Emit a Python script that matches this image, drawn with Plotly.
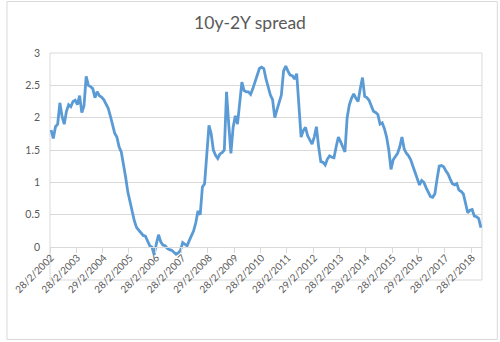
import pandas as pd
import plotly.graph_objects as go

# Month-end 10-year minus 2-year Treasury spread (percentage points), Feb 2002 onward
spread = [
    1.81, 1.68, 1.86, 1.90, 2.23, 2.02, 1.90, 2.10, 2.20, 2.17, 2.25, 2.27,
    2.20, 2.34, 2.08, 2.18, 2.64, 2.50, 2.48, 2.45, 2.31, 2.40, 2.34, 2.32,
    2.28, 2.22, 2.15, 2.03, 1.88, 1.76, 1.70, 1.55, 1.47, 1.30, 1.08, 0.85,
    0.72, 0.55, 0.40, 0.30, 0.26, 0.22, 0.18, 0.17, 0.10, 0.02, 0.00, -0.12,
    0.05, 0.19, 0.08, 0.03, 0.02, -0.02, -0.04, -0.05, -0.08, -0.11, -0.09, -0.05,
    0.07, 0.04, 0.02, 0.10, 0.17, 0.25, 0.38, 0.56, 0.50, 0.93, 0.98, 1.40,
    1.88, 1.75, 1.50, 1.42, 1.37, 1.44, 1.46, 1.50, 2.40, 1.90, 1.45, 1.85,
    2.03, 1.90, 2.25, 2.55, 2.42, 2.40, 2.40, 2.36, 2.45, 2.55, 2.65, 2.76,
    2.78, 2.76, 2.60, 2.48, 2.35, 2.28, 2.00, 2.12, 2.22, 2.35, 2.72, 2.80,
    2.72, 2.66, 2.65, 2.60, 2.68, 2.20, 1.70, 1.80, 1.85, 1.72, 1.65, 1.59,
    1.70, 1.86, 1.55, 1.32, 1.31, 1.27, 1.36, 1.41, 1.39, 1.38, 1.55, 1.70,
    1.63, 1.56, 1.47, 2.00, 2.20, 2.30, 2.37, 2.30, 2.25, 2.45, 2.62, 2.33,
    2.31, 2.27, 2.18, 2.10, 2.08, 2.05, 1.90, 1.92, 1.83, 1.70, 1.50, 1.20,
    1.35, 1.40, 1.45, 1.55, 1.70, 1.52, 1.45, 1.41, 1.35, 1.25, 1.15, 1.05,
    0.96, 1.03, 1.00, 0.92, 0.85, 0.78, 0.77, 0.82, 1.05, 1.25, 1.26, 1.24,
    1.18, 1.13, 1.05, 0.98, 0.96, 0.98, 0.88, 0.86, 0.82, 0.68, 0.53, 0.57,
    0.58, 0.48, 0.47, 0.44, 0.30,
]

month_ends = pd.date_range("2002-02-28", periods=len(spread), freq="ME")
dates = [f"{d.day}/{d.month}/{d.year}" for d in month_ends]

title_text = "10y-2Y spread"

# layout geometry (pixels)
W, H = 500, 342
PLOT_L, PLOT_R, PLOT_T, PLOT_B = 45, 482, 53, 260
Y_MIN, Y_MAX = -0.2, 3.0
FRAME_BOTTOM = 280

GREY_TEXT = "#595959"
GRID = "#D9D9D9"
FONT = "Lato, 'Open Sans', sans-serif"

pw = PLOT_R - PLOT_L
ph = PLOT_B - PLOT_T


def px_x(x):
    return (x - PLOT_L) / pw


def px_y(y):
    return (PLOT_B - y) / ph


fig = go.Figure(
    go.Scatter(
        x=dates,
        y=spread,
        mode="lines",
        line=dict(color="#5B9BD5", width=2.8),
        hoverinfo="x+y",
    )
)

fig.update_layout(
    width=W,
    height=H,
    margin=dict(l=PLOT_L, r=W - PLOT_R, t=PLOT_T, b=H - PLOT_B),
    paper_bgcolor="white",
    plot_bgcolor="white",
    showlegend=False,
    font=dict(family=FONT, color=GREY_TEXT),
    title=dict(
        text=title_text,
        x=0.5,
        xref="container",
        xanchor="center",
        y=1 - 23 / H,
        yref="container",
        yanchor="middle",
        font=dict(size=17.5, color=GREY_TEXT, family=FONT),
    ),
    xaxis=dict(
        type="category",
        range=[-0.5, len(spread) - 0.5],
        dtick=12,
        tickson="boundaries",
        ticks="outside",
        ticklen=5,
        tickcolor=GRID,
        showline=True,
        linecolor=GRID,
        linewidth=1,
        showgrid=False,
        tickangle=-45,
        tickfont=dict(size=10, color=GREY_TEXT, family=FONT),
        anchor="free",
        position=(0 - Y_MIN) / (Y_MAX - Y_MIN),
    ),
    yaxis=dict(
        range=[Y_MIN, Y_MAX],
        tick0=0,
        dtick=0.5,
        showgrid=True,
        gridcolor=GRID,
        gridwidth=1,
        zeroline=False,
        showline=False,
        ticks="",
        ticklabelstandoff=9,
        tickfont=dict(size=10.5, color=GREY_TEXT, family=FONT),
    ),
    shapes=[
        # plot-area frame
        dict(
            type="rect", xref="paper", yref="paper",
            x0=0, x1=1, y0=px_y(FRAME_BOTTOM), y1=1,
            line=dict(color=GRID, width=1), fillcolor="rgba(0,0,0,0)",
            layer="below",
        ),
        # chart border
        dict(
            type="rect", xref="paper", yref="paper",
            x0=px_x(1.5), x1=px_x(497.5), y0=px_y(339.5), y1=px_y(1.5),
            line=dict(color=GRID, width=1), fillcolor="rgba(0,0,0,0)",
            layer="below",
        ),
    ],
)

fig.write_html("out.html", config={"displayModeBar": False})
